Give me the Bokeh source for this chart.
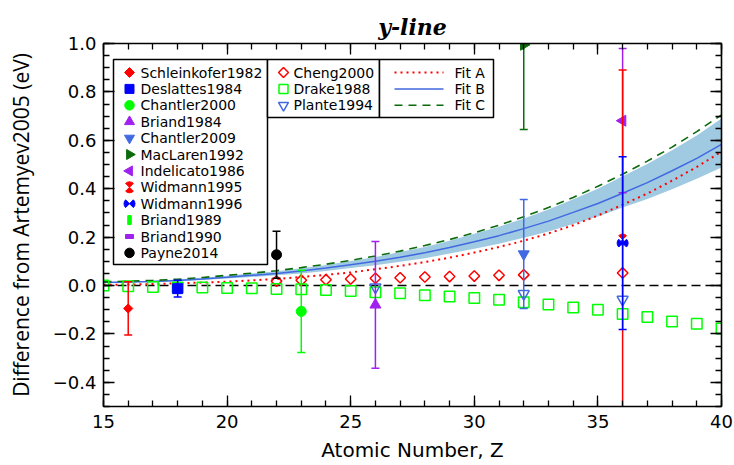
import math
from bokeh.plotting import figure
from bokeh.models import Range1d, LinearAxis, FixedTicker, CustomJSTickFormatter, Span
from bokeh.core.properties import value
from bokeh.embed import file_html
from bokeh.resources import INLINE

# ------------------------------------------------------------------ data
x_ticks = [15, 20, 25, 30, 35, 40]
x_minor = list(range(15, 41))
y_ticks = [-0.4, -0.2, 0.0, 0.2, 0.4, 0.6, 0.8, 1.0]
y_minor = [round(-0.5 + 0.05 * i, 2) for i in range(31)]

fit_Z = list(range(15, 41))
fitA = [0.003, 0.004, 0.006, 0.009, 0.012, 0.016, 0.021, 0.027, 0.035, 0.044, 0.054, 0.067, 0.081,
        0.097, 0.115, 0.136, 0.159, 0.185, 0.215, 0.249, 0.289, 0.334, 0.380, 0.433, 0.490, 0.553]
fitB = [0.012, 0.014, 0.017, 0.021, 0.027, 0.034, 0.042, 0.050, 0.060, 0.072, 0.086, 0.100, 0.117,
        0.135, 0.157, 0.181, 0.206, 0.235, 0.266, 0.302, 0.339, 0.381, 0.425, 0.474, 0.525, 0.583]
fitB_hi = [0.014, 0.017, 0.020, 0.025, 0.032, 0.040, 0.050, 0.059, 0.071, 0.085, 0.101, 0.118, 0.138,
           0.159, 0.185, 0.214, 0.243, 0.277, 0.314, 0.356, 0.400, 0.451, 0.502, 0.559, 0.620, 0.690]
fitB_lo = [0.010, 0.012, 0.014, 0.018, 0.023, 0.029, 0.035, 0.042, 0.050, 0.060, 0.072, 0.084, 0.098,
           0.113, 0.132, 0.152, 0.173, 0.197, 0.223, 0.254, 0.285, 0.322, 0.357, 0.398, 0.441, 0.488]
fitC = [0.015, 0.018, 0.021, 0.026, 0.033, 0.042, 0.051, 0.061, 0.074, 0.088, 0.104, 0.122, 0.142,
        0.165, 0.190, 0.218, 0.249, 0.284, 0.322, 0.364, 0.410, 0.460, 0.514, 0.572, 0.636, 0.705]

cheng_Z = [22, 23, 24, 25, 26, 27, 28, 29, 30, 31, 32, 36]
cheng_val = [0.018, 0.022, 0.024, 0.027, 0.030, 0.032, 0.035, 0.037, 0.039, 0.042, 0.044, 0.052]
drake_Z = list(range(15, 41))
drake_val = [0.000, -0.003, -0.006, -0.008, -0.008, -0.010, -0.011, -0.014, -0.016, -0.019, -0.023,
             -0.028, -0.032, -0.040, -0.045, -0.052, -0.059, -0.069, -0.078, -0.091, -0.100, -0.118,
             -0.130, -0.149, -0.158, -0.178]
plante_Z = [26, 32, 36]
plante_val = [-0.007, -0.034, -0.058]

schleinkofer_Z, schleinkofer_val, schleinkofer_err = [16], [-0.095], [0.110]
deslattes_Z, deslattes_val, deslattes_err = [18], [-0.013], [0.035]
chantler2000_Z, chantler2000_val, chantler2000_err = [23], [-0.107], [0.170]
briand1984_Z, briand1984_val, briand1984_err = [26], [-0.080], [0.262]
chantler2009_Z, chantler2009_val, chantler2009_err = [32], [0.130], [0.225]
maclaren_Z, maclaren_val, maclaren_err = [32], [0.995], [0.350]
indelicato_Z, indelicato_val, indelicato_err = [36], [0.681], [0.298]
widmann1995_Z, widmann1995_val, widmann1995_err = [36], [0.190], [0.700]
widmann1996_Z, widmann1996_val, widmann1996_err = [36], [0.175], [0.357]
briand1989_Z, briand1989_val = [], []
briand1990_Z, briand1990_val = [], []
payne_Z, payne_val, payne_err = [22], [0.127], [0.097]

legend1_labels = ["Schleinkofer1982", "Deslattes1984", "Chantler2000", "Briand1984", "Chantler2009",
                  "MacLaren1992", "Indelicato1986", "Widmann1995", "Widmann1996", "Briand1989",
                  "Briand1990", "Payne2014"]
legend2_labels = ["Cheng2000", "Drake1988", "Plante1994"]
legend3_labels = ["Fit A", "Fit B", "Fit C"]

# ------------------------------------------------------------------ style / layout
RED, BLUE, LIME, PURPLE = "#FF0000", "#0000FF", "#00FF00", "#A020F0"
ROYAL, DKGREEN, BLACK, BAND = "#4169E1", "#0B6B0B", "#000000", "#9FCAE2"
XR, YR = (15, 40), (-0.5, 1.0)
W, H = 734, 465
FL, FT, FW, FH = 103, 43, 618, 363          # plot frame in page pixels
SANS = "DejaVu Sans"

p = figure(width=W, height=H, x_range=Range1d(*XR), y_range=Range1d(*YR),
           output_backend="svg", toolbar_location=None,
           min_border_left=FL, min_border_right=W - (FL + FW),
           min_border_top=FT, min_border_bottom=H - (FT + FH))
p.grid.visible = False
p.outline_line_color = BLACK
p.background_fill_color = "white"
p.border_fill_color = "white"

p.title.text = "y-line"
p.title.align = "center"
p.title.text_color = BLACK
p.title.text_font = "DejaVu Serif"
p.title.text_font_style = "bold italic"
p.title.text_font_size = "22px"
p.title.standoff = 8

xt = FixedTicker(ticks=x_ticks, minor_ticks=x_minor)
yt = FixedTicker(ticks=y_ticks, minor_ticks=y_minor)
yfmt = CustomJSTickFormatter(code="return (tick < -1e-9 ? '\u2212' : '') + Math.abs(tick).toFixed(1);")
xfmt = CustomJSTickFormatter(code="return tick.toFixed(0);")
blank = CustomJSTickFormatter(code="return '';")


def style_axis(ax):
    ax.axis_line_width = 1.6
    ax.axis_line_color = BLACK
    ax.major_tick_in = 11
    ax.major_tick_out = 0
    ax.minor_tick_in = 6
    ax.minor_tick_out = 0
    ax.major_tick_line_width = 1.3
    ax.minor_tick_line_width = 1.3
    ax.major_tick_line_color = BLACK
    ax.minor_tick_line_color = BLACK
    ax.major_label_text_font = SANS
    ax.major_label_text_font_size = "18px"
    ax.major_label_text_color = BLACK
    ax.axis_label_text_color = BLACK


bx = p.xaxis[0]
bx.ticker = xt
bx.formatter = xfmt
style_axis(bx)
bx.major_label_standoff = 8
bx.axis_label = "Atomic Number, Z"
bx.axis_label_text_font = SANS
bx.axis_label_text_font_size = "20px"
bx.axis_label_text_font_style = "normal"
bx.axis_label_standoff = 7

ly = p.yaxis[0]
ly.ticker = yt
ly.formatter = yfmt
style_axis(ly)
ly.major_label_standoff = 7
ly.axis_label = "Difference from Artemyev2005 (eV)"
ly.axis_label_text_font = "Open Sans"
ly.axis_label_text_font_size = "21px"
ly.axis_label_text_font_style = "normal"
ly.axis_label_standoff = 15

tx = LinearAxis(ticker=xt, formatter=blank, major_label_standoff=0)
style_axis(tx)
tx.major_label_text_font_size = "1px"
p.add_layout(tx, "above")
ry = LinearAxis(ticker=yt, formatter=blank, major_label_standoff=0)
style_axis(ry)
ry.major_label_text_font_size = "1px"
p.add_layout(ry, "right")

# ------------------------------------------------------------------ fits
p.varea(x=fit_Z, y1=fitB_lo, y2=fitB_hi, fill_color=BAND, fill_alpha=1.0)
p.add_layout(Span(location=0, dimension="width", line_color=BLACK, line_width=1.5,
                  line_dash="9 5", level="underlay"))
p.line(fit_Z, fitA, line_color=RED, line_width=2, line_dash="2 4")
p.line(fit_Z, fitB, line_color=ROYAL, line_width=1.5)
p.line(fit_Z, fitC, line_color=DKGREEN, line_width=1.6, line_dash="8 6")

# ------------------------------------------------------------------ theory point sets
p.scatter(cheng_Z, cheng_val, marker="square", angle=math.pi / 4, size=7.5,
          fill_color=None, line_color=RED, line_width=1.5)
p.scatter(drake_Z, drake_val, marker="square", size=10.5,
          fill_color=None, line_color=LIME, line_width=1.5)
p.scatter(plante_Z, plante_val, marker="inverted_triangle", size=11,
          fill_color=None, line_color=ROYAL, line_width=1.5)


# ------------------------------------------------------------------ experiments
def errbar(Z, v, e, color):
    lo = [a - b for a, b in zip(v, e)]
    hi = [a + b for a, b in zip(v, e)]
    p.segment(x0=Z, y0=lo, x1=Z, y1=hi, line_color=color, line_width=1.5)
    p.scatter(x=Z + Z, y=lo + hi, marker="dash", size=8, line_color=color, line_width=1.5)


def hourglass(Z, v, color, r=5.5, vertical=True):
    a = math.pi / 2 if vertical else 0.0
    for c in (a, a + math.pi):
        p.wedge(x=Z, y=v, radius=r, radius_units="screen",
                start_angle=c - math.pi / 4, end_angle=c + math.pi / 4,
                fill_color=color, line_color=color, line_width=1)


errbar(schleinkofer_Z, schleinkofer_val, schleinkofer_err, RED)
p.scatter(schleinkofer_Z, schleinkofer_val, marker="square", angle=math.pi / 4, size=6.5,
          fill_color=RED, line_color=RED)
errbar(deslattes_Z, deslattes_val, deslattes_err, BLUE)
p.scatter(deslattes_Z, deslattes_val, marker="square", size=10, fill_color=BLUE, line_color=BLUE)
errbar(chantler2000_Z, chantler2000_val, chantler2000_err, LIME)
p.scatter(chantler2000_Z, chantler2000_val, marker="circle", size=10, fill_color=LIME, line_color=LIME)
errbar(briand1984_Z, briand1984_val, briand1984_err, PURPLE)
p.scatter(briand1984_Z, briand1984_val, marker="triangle", size=11, fill_color=PURPLE, line_color=PURPLE)
errbar(chantler2009_Z, chantler2009_val, chantler2009_err, ROYAL)
p.scatter(chantler2009_Z, chantler2009_val, marker="inverted_triangle", size=11,
          fill_color=ROYAL, line_color=ROYAL)
errbar(maclaren_Z, maclaren_val, maclaren_err, DKGREEN)
p.scatter(maclaren_Z, maclaren_val, marker="triangle", angle=-math.pi / 2, size=11,
          fill_color=DKGREEN, line_color=DKGREEN)
errbar(indelicato_Z, indelicato_val, indelicato_err, PURPLE)
p.scatter(indelicato_Z, indelicato_val, marker="triangle", angle=math.pi / 2, size=11,
          fill_color=PURPLE, line_color=PURPLE)
errbar(widmann1995_Z, widmann1995_val, widmann1995_err, RED)
hourglass(widmann1995_Z, widmann1995_val, RED, vertical=True)
errbar(widmann1996_Z, widmann1996_val, widmann1996_err, BLUE)
hourglass(widmann1996_Z, widmann1996_val, BLUE, vertical=False)
p.rect(briand1989_Z, briand1989_val, width=3, height=9, width_units="screen",
       height_units="screen", fill_color=LIME, line_color=LIME)
p.rect(briand1990_Z, briand1990_val, width=8, height=4, width_units="screen",
       height_units="screen", fill_color=PURPLE, line_color=PURPLE)
errbar(payne_Z, payne_val, payne_err, BLACK)
p.scatter(payne_Z, payne_val, marker="circle", size=10, fill_color=BLACK, line_color=BLACK)


# ------------------------------------------------------------------ legend boxes (layout in page px)
def px2x(px):
    return XR[0] + (px - FL) / FW * (XR[1] - XR[0])


def px2y(py):
    return YR[1] - (py - FT) / FH * (YR[1] - YR[0])


def box(l, r, t, b):
    p.quad(left=[px2x(l)], right=[px2x(r)], top=[px2y(t)], bottom=[px2y(b)],
           fill_color="white", line_color=BLACK, line_width=1.5)


def texts(labels, x_px, rows_px, align="left"):
    p.text(x=[px2x(x_px)] * len(labels), y=[px2y(r) for r in rows_px], text=labels,
           text_font=value(SANS), text_font_size="14px", text_color=BLACK,
           text_align=align, text_baseline="middle")


ROW = 16.4
rows1 = [72 + ROW * i for i in range(len(legend1_labels))]
rows23 = [72 + ROW * i for i in range(3)]

box(113, 267, 59, 264)
box(267, 379, 59, 117)
box(379, 493, 59, 117)
texts(legend1_labels, 140, rows1)
texts(legend2_labels, 293, rows23)
texts(legend3_labels, 454, rows23)

X1 = [px2x(129)]
Y1 = [[px2y(r)] for r in rows1]
p.scatter(X1, Y1[0], marker="square", angle=math.pi / 4, size=7, fill_color=RED, line_color=RED)
p.scatter(X1, Y1[1], marker="square", size=9, fill_color=BLUE, line_color=BLUE)
p.scatter(X1, Y1[2], marker="circle", size=9.5, fill_color=LIME, line_color=LIME)
p.scatter(X1, Y1[3], marker="triangle", size=10, fill_color=PURPLE, line_color=PURPLE)
p.scatter(X1, Y1[4], marker="inverted_triangle", size=10, fill_color=ROYAL, line_color=ROYAL)
p.scatter(X1, Y1[5], marker="triangle", angle=-math.pi / 2, size=10, fill_color=DKGREEN,
          line_color=DKGREEN)
p.scatter(X1, Y1[6], marker="triangle", angle=math.pi / 2, size=10, fill_color=PURPLE,
          line_color=PURPLE)
hourglass(X1, Y1[7], RED, r=5.5, vertical=True)
hourglass(X1, Y1[8], BLUE, r=5.5, vertical=False)
p.rect(X1, Y1[9], width=3.5, height=9, width_units="screen", height_units="screen",
       fill_color=LIME, line_color=LIME)
p.rect(X1, Y1[10], width=8, height=4, width_units="screen", height_units="screen",
       fill_color=PURPLE, line_color=PURPLE)
p.scatter(X1, Y1[11], marker="circle", size=9.5, fill_color=BLACK, line_color=BLACK)

X2 = [px2x(283)]
Y2 = [[px2y(r)] for r in rows23]
p.scatter(X2, Y2[0], marker="square", angle=math.pi / 4, size=7, fill_color=None,
          line_color=RED, line_width=1.5)
p.scatter(X2, Y2[1], marker="square", size=9, fill_color=None, line_color=LIME, line_width=1.5)
p.scatter(X2, Y2[2], marker="inverted_triangle", size=10, fill_color=None, line_color=ROYAL,
          line_width=1.5)

sx0, sx1 = px2x(394), px2x(443)
Y3 = [px2y(r) for r in rows23]
p.segment(x0=[sx0], y0=[Y3[0]], x1=[sx1], y1=[Y3[0]], line_color=RED, line_width=2, line_dash="2 4")
p.segment(x0=[sx0], y0=[Y3[1]], x1=[sx1], y1=[Y3[1]], line_color=ROYAL, line_width=1.5)
p.segment(x0=[sx0], y0=[Y3[2]], x1=[sx1], y1=[Y3[2]], line_color=DKGREEN, line_width=1.6,
          line_dash="8 6")

open("out.html", "w").write(file_html(p, INLINE))
